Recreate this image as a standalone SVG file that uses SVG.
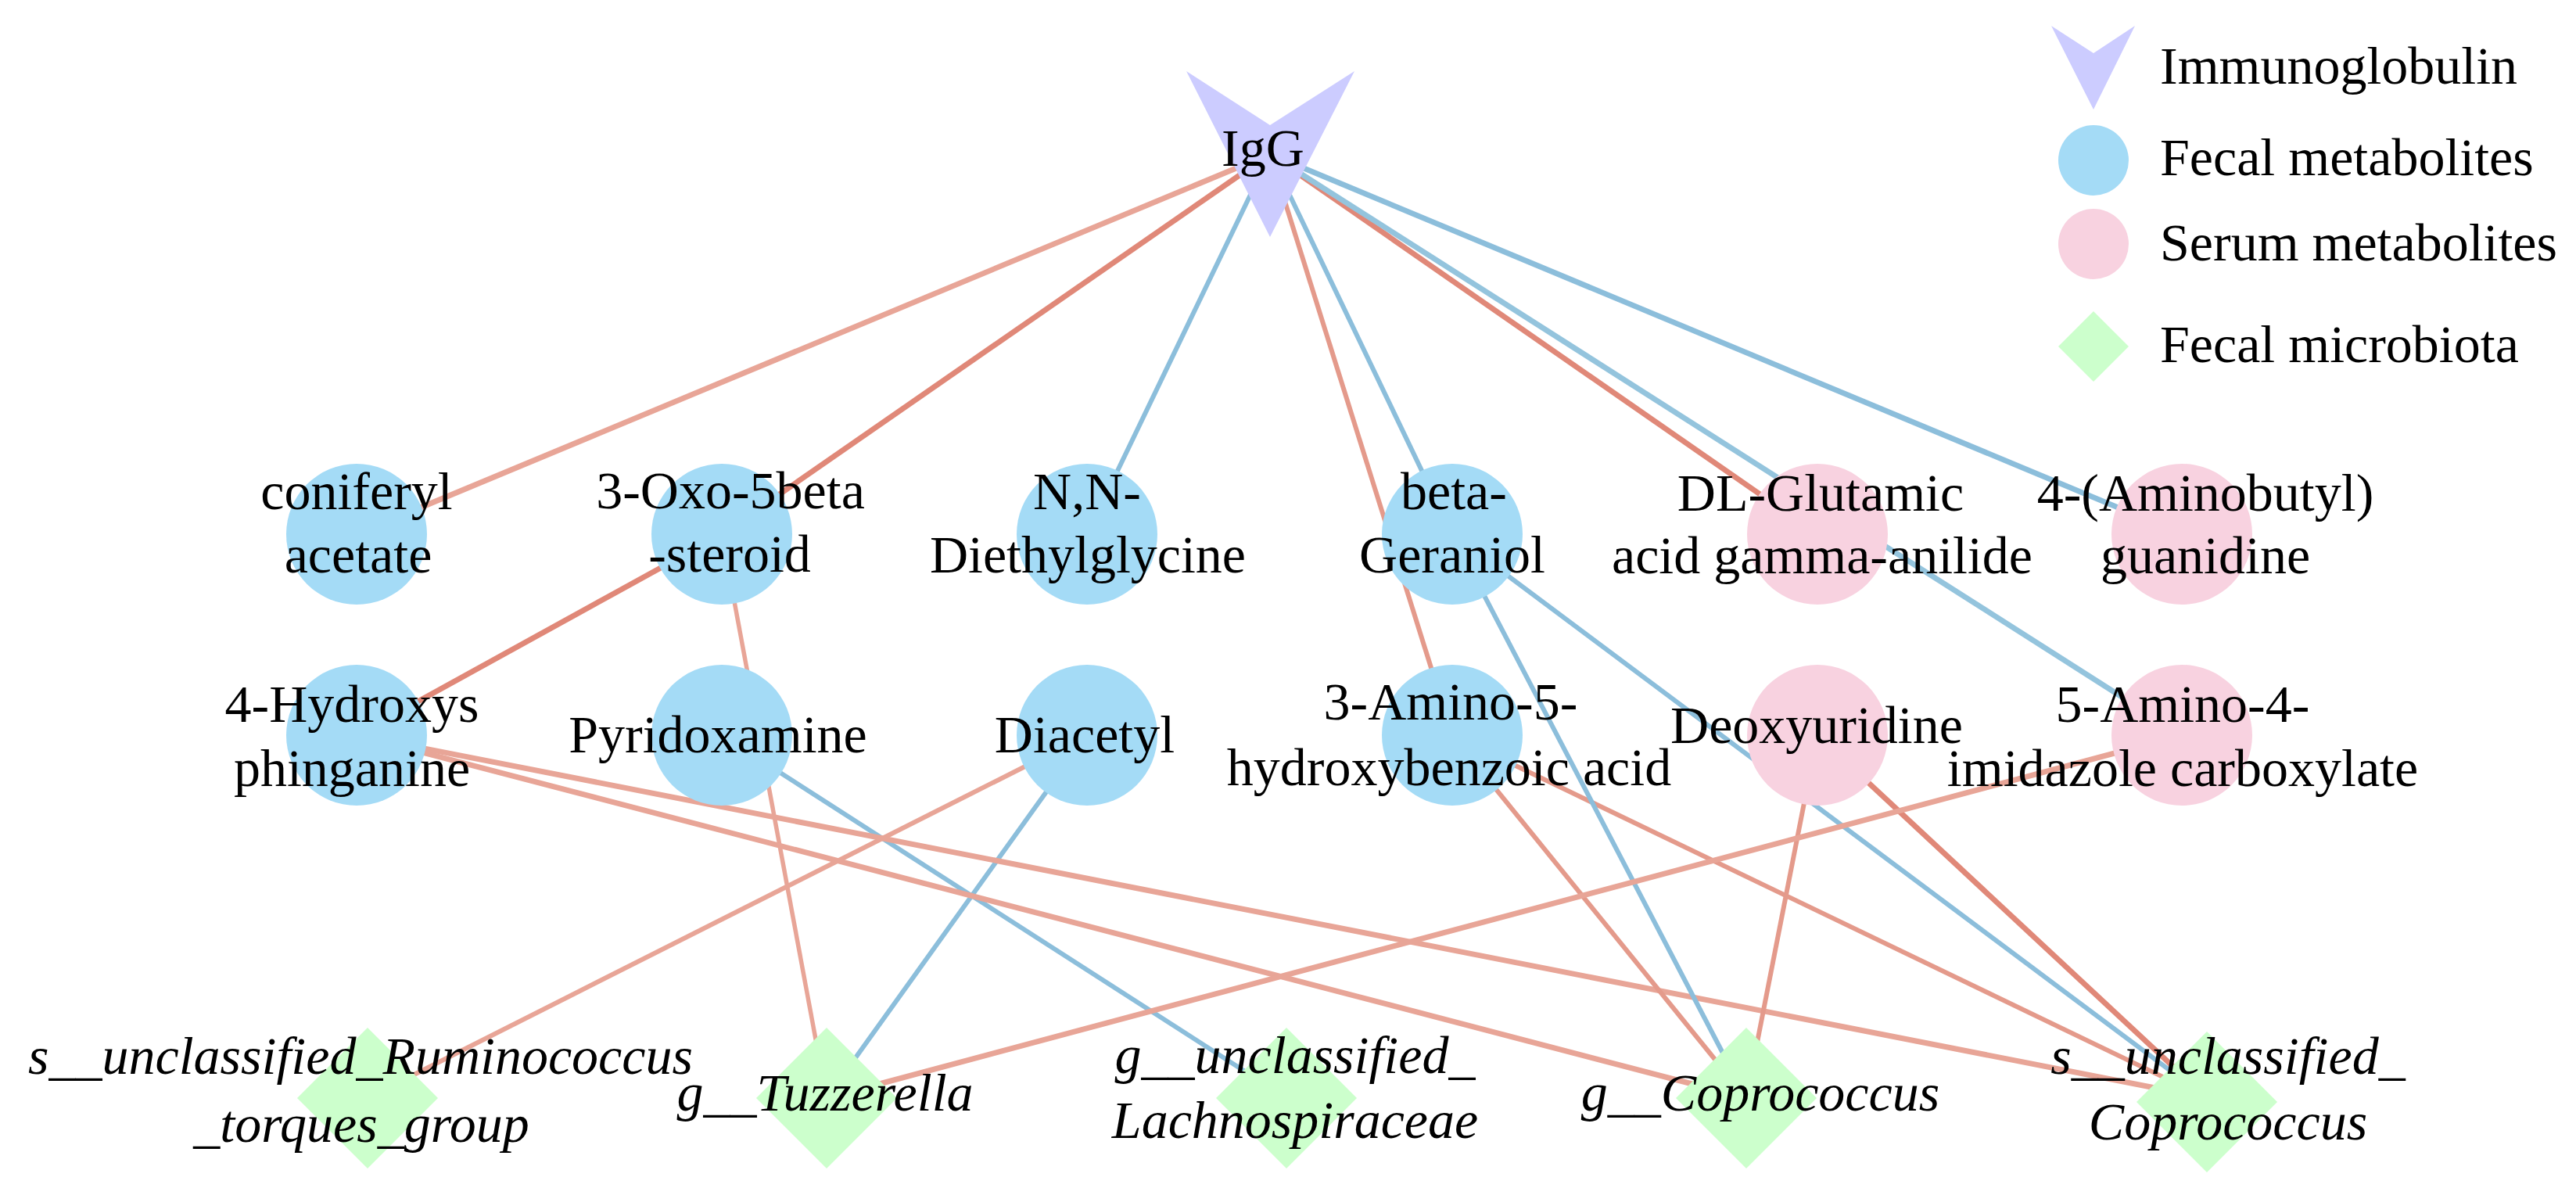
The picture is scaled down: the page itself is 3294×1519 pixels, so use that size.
<svg xmlns="http://www.w3.org/2000/svg" width="3294" height="1519" viewBox="0 0 3294 1519">
<style>
text{font-family:"Liberation Serif","Times New Roman",serif;font-size:68px;fill:#000;text-anchor:middle}
.it{font-style:italic}
.lg{text-anchor:start}
.fm{fill:#a4dbf6}
.sm{fill:#f8d2e0}
.mb{fill:#ccffcc}
.ig{fill:#ccccff}
line{fill:none;stroke-linecap:butt}
.r1{stroke:#e8a597;stroke-width:7}
.r2{stroke:#e08878;stroke-width:7}
.r3{stroke:#e49a8b;stroke-width:6}
.b1{stroke:#8cbedb;stroke-width:6}
.b2{stroke:#94c4dd;stroke-width:7}
</style>
<rect width="3294" height="1519" fill="#fff"/>
<g id="connectors">
<line class="r1" x1="1624" y1="197" x2="456" y2="683"/>
<line class="r2" x1="1624" y1="197" x2="923" y2="683"/>
<line class="b1" x1="1624" y1="197" x2="1390" y2="683"/>
<line class="r3" x1="1624" y1="197" x2="1857" y2="940"/>
<line class="b1" x1="1624" y1="197" x2="1857" y2="683"/>
<line class="r2" x1="1624" y1="197" x2="2324" y2="683"/>
<line class="b2" x1="1624" y1="197" x2="2790" y2="940"/>
<line class="b1" x1="1624" y1="197" x2="2790" y2="683" style="stroke-width:7"/>
<line class="r2" x1="923" y1="683" x2="456" y2="940"/>
<line class="r1" x1="923" y1="683" x2="1057" y2="1404" style="stroke-width:5.5"/>
<line class="b1" x1="923" y1="940" x2="1645" y2="1404"/>
<line class="r1" x1="1390" y1="940" x2="470" y2="1404" style="stroke-width:6"/>
<line class="b1" x1="1390" y1="940" x2="1057" y2="1404"/>
<line class="r1" x1="456" y1="940" x2="2233" y2="1404"/>
<line class="r1" x1="456" y1="940" x2="2822" y2="1404"/>
<line class="r3" x1="1857" y1="940" x2="2233" y2="1404"/>
<line class="r3" x1="1857" y1="940" x2="2822" y2="1404"/>
<line class="b1" x1="1857" y1="683" x2="2233" y2="1404"/>
<line class="b1" x1="1857" y1="683" x2="2822" y2="1404"/>
<line class="r3" x1="2324" y1="940" x2="2233" y2="1404"/>
<line class="r2" x1="2324" y1="940" x2="2822" y2="1404"/>
<line class="r1" x1="2790" y1="940" x2="1057" y2="1404"/>
</g>
<g id="n-igg"><polygon class="ig" points="1517,91 1624,160 1732,91 1624,303"/><text x="1615" y="212">IgG</text></g>
<g id="n-coniferyl"><circle class="fm" cx="456" cy="683" r="90"/><text x="456" y="651">coniferyl</text><text x="458" y="732">acetate</text></g>
<g id="n-oxo"><circle class="fm" cx="923" cy="683" r="90"/><text x="934" y="650">3-Oxo-5beta</text><text x="933" y="731">-steroid</text></g>
<g id="n-nn"><circle class="fm" cx="1390" cy="683" r="90"/><text x="1390" y="651">N,N-</text><text x="1391" y="732">Diethylglycine</text></g>
<g id="n-ger"><circle class="fm" cx="1857" cy="683" r="90"/><text x="1859" y="651">beta-</text><text x="1857" y="732">Geraniol</text></g>
<g id="n-dlg"><circle class="sm" cx="2324" cy="683" r="90"/><text x="2328" y="653">DL-Glutamic</text><text x="2330" y="733">acid gamma-anilide</text></g>
<g id="n-amb"><circle class="sm" cx="2790" cy="683" r="90"/><text x="2820" y="653">4-(Aminobutyl)</text><text x="2820" y="733">guanidine</text></g>
<g id="n-hyd"><circle class="fm" cx="456" cy="940" r="90"/><text x="450" y="923">4-Hydroxys</text><text x="450" y="1005">phinganine</text></g>
<g id="n-pyr"><circle class="fm" cx="923" cy="940" r="90"/><text x="918" y="962">Pyridoxamine</text></g>
<g id="n-dia"><circle class="fm" cx="1390" cy="940" r="90"/><text x="1387" y="962">Diacetyl</text></g>
<g id="n-ami"><circle class="fm" cx="1857" cy="940" r="90"/><text x="1855" y="920">3-Amino-5-</text><text x="1853" y="1004">hydroxybenzoic acid</text></g>
<g id="n-deo"><circle class="sm" cx="2324" cy="940" r="90"/><text x="2323" y="950">Deoxyuridine</text></g>
<g id="n-aic"><circle class="sm" cx="2790" cy="940" r="90"/><text x="2791" y="923">5-Amino-4-</text><text x="2791" y="1005">imidazole carboxylate</text></g>
<g id="n-rum"><polygon class="mb" points="470,1314 560,1404 470,1494 380,1404"/><text class="it" x="461" y="1373">s__unclassified_Ruminococcus</text><text class="it" x="462" y="1460">_torques_group</text></g>
<g id="n-tuz"><polygon class="mb" points="1057,1314 1147,1404 1057,1494 967,1404"/><text class="it" x="1055" y="1420">g__Tuzzerella</text></g>
<g id="n-lac"><polygon class="mb" points="1645,1314 1735,1404 1645,1494 1555,1404"/><text class="it" x="1656" y="1372">g__unclassified_</text><text class="it" x="1656" y="1455">Lachnospiraceae</text></g>
<g id="n-gco"><polygon class="mb" points="2233,1314 2323,1404 2233,1494 2143,1404"/><text class="it" x="2251" y="1420">g__Coprococcus</text></g>
<g id="n-sco"><polygon class="mb" points="2822,1319 2912,1409 2822,1499 2732,1409"/><text class="it" x="2849" y="1373">s__unclassified_</text><text class="it" x="2849" y="1457">Coprococcus</text></g>
<g id="legend">
<polygon class="ig" points="2623,33 2677,68 2730,33 2677,140"/>
<circle class="fm" cx="2677" cy="205" r="45"/>
<circle class="sm" cx="2677" cy="312" r="45"/>
<polygon class="mb" points="2677,398 2722,443 2677,488 2632,443"/>
<text class="lg" x="2762" y="107">Immunoglobulin</text>
<text class="lg" x="2762" y="224">Fecal metabolites</text>
<text class="lg" x="2762" y="333">Serum metabolites</text>
<text class="lg" x="2762" y="463">Fecal microbiota</text>
</g>
</svg>
